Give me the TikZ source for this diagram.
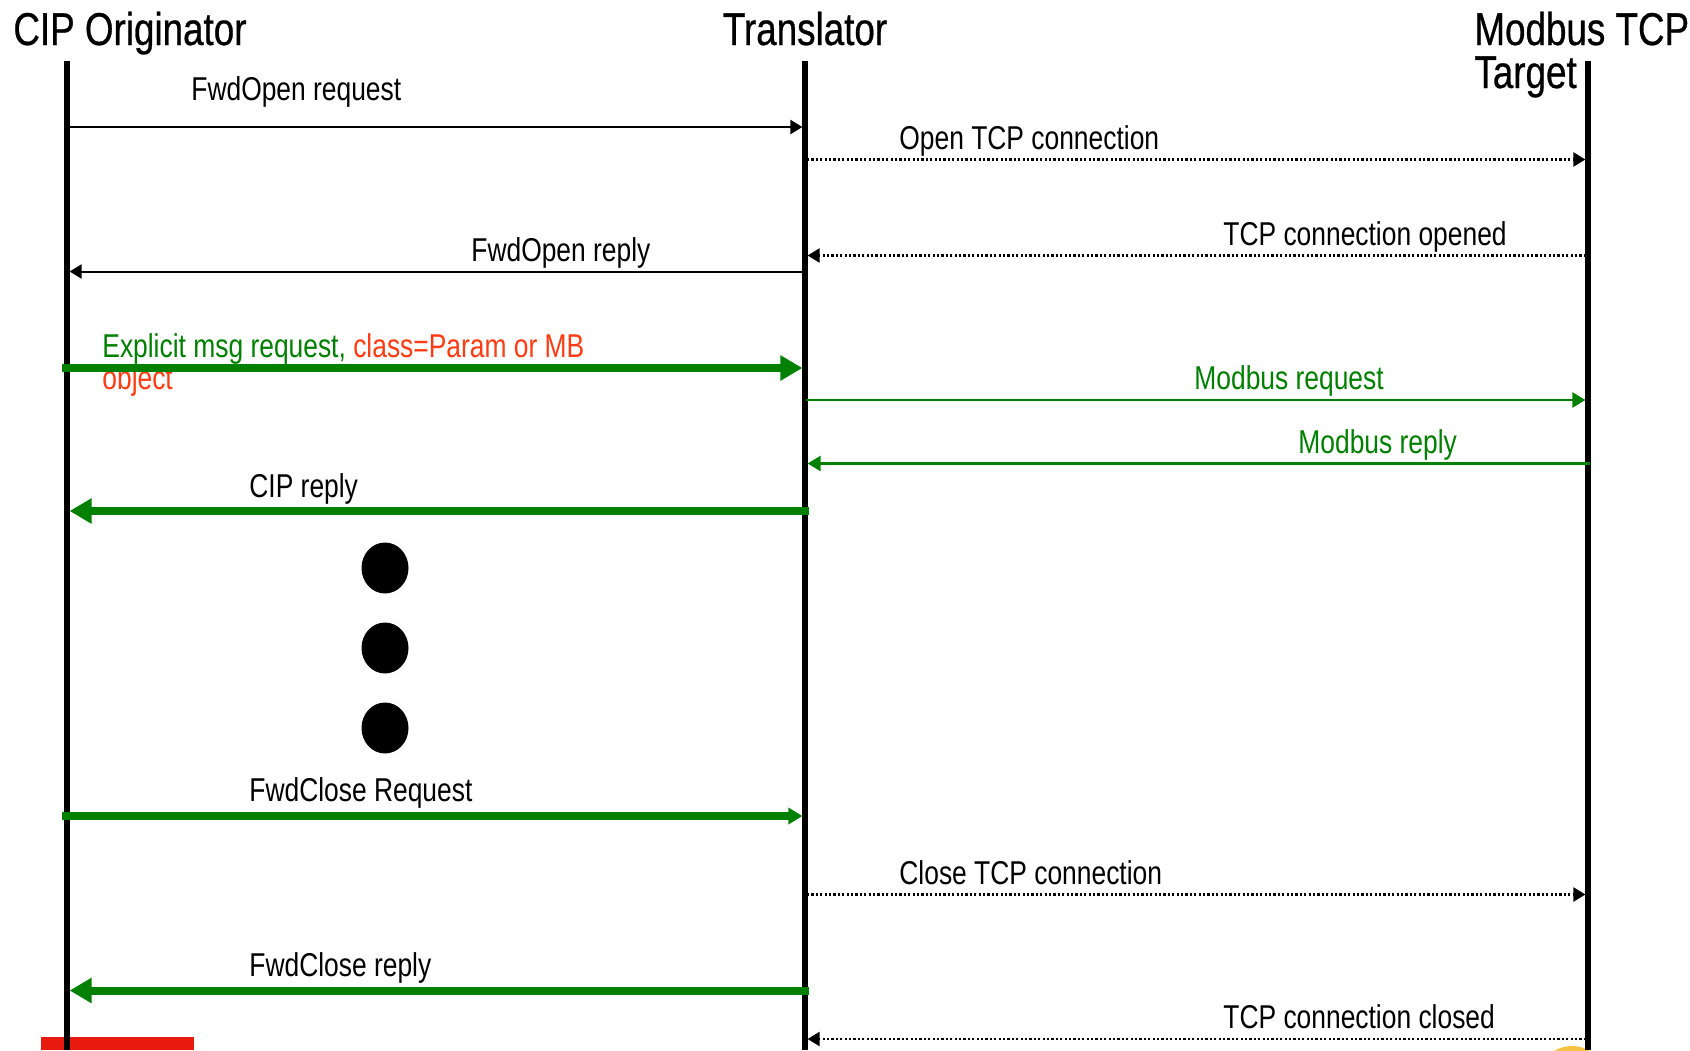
\documentclass[tikz,border=0pt]{standalone}
\usepackage{fontspec}
\setmainfont{Liberation Sans}[FakeStretch=0.8]
\newfontfamily\titlefont{Liberation Sans}[FakeStretch=0.8,FakeBold=0.6]
\usetikzlibrary{arrows.meta}
\definecolor{cipgreen}{RGB}{0,128,0}
\definecolor{cipred}{RGB}{255,60,20}
\definecolor{barred}{RGB}{232,25,15}
\definecolor{sunyellow}{RGB}{245,194,66}
\begin{document}
\begin{tikzpicture}[x=0.5pt,y=-0.5pt,
  title/.style={font=\titlefont\fontsize{23}{26}\selectfont, inner sep=0pt, anchor=base west},
  lbl/.style={font=\fontsize{16.5}{19}\selectfont, inner sep=0pt, anchor=base west},
  life/.style={line width=2.7pt},
  thinmsg/.style={line width=1pt, shorten >=1.3pt, -{Triangle[length=6pt,width=7pt]}},
  dotmsg/.style={line width=1.1pt, dash pattern=on 1.1pt off 1.1pt, shorten >=1.3pt, -{Triangle[length=6pt,width=7pt]}},
  greenthin/.style={cipgreen, line width=1.2pt, shorten >=1.3pt, -{Triangle[length=6.5pt,width=7.5pt]}},
  greenthick/.style={cipgreen, line width=4pt, shorten >=1.3pt, -{Triangle[length=11pt,width=12pt]}},
  greenmid/.style={cipgreen, line width=4pt, shorten >=1.3pt, -{Triangle[length=7pt,width=8pt]}},
  bigdot/.style={fill=black}
]
\clip (0,0) rectangle (1690,1050);
\fill[white] (0,0) rectangle (1690,1050);

% background decorations
\fill[barred] (41,1037) rectangle (194,1050);
\fill[sunyellow] (1572,1080) circle (34);

% titles
\node[title] (orig) at (13,45) {CIP Originator};
\node[title, anchor=base] (trans) at (805,45) {Translator};
\node[title] (mb) at (1474,45) {Modbus TCP};
\node[title] (mbt) at (1474,88) {Target};

% lifelines
\coordinate (oTop) at (67,61);   \coordinate (oBot) at (67,1050);
\coordinate (tTop) at (805,61);  \coordinate (tBot) at (805,1050);
\coordinate (mTop) at (1588,61); \coordinate (mBot) at (1588,1050);
\draw[life] (oTop) -- (oBot);
\draw[life] (tTop) -- (tBot);
\draw[life] (mTop) -- (mBot);

% message end points
\coordinate (o1) at (67,127);   \coordinate (t1) at (805,127);
\coordinate (t2) at (807,159.5);\coordinate (m2) at (1588,159.5);
\coordinate (m3) at (1586,255.5);\coordinate (t3) at (805,255.5);
\coordinate (t4) at (805,271.5);\coordinate (o4) at (67,271.5);
\coordinate (o5) at (62,368);   \coordinate (t5) at (805,368);
\coordinate (t6) at (806,400);  \coordinate (m6) at (1588,400);
\coordinate (m7) at (1590,463.5);\coordinate (t7) at (805,463.5);
\coordinate (t8) at (809,511);  \coordinate (o8) at (67,511);
\coordinate (o9) at (62,816);   \coordinate (t9) at (805,816);
\coordinate (t10) at (807,894.5);\coordinate (m10) at (1588,894.5);
\coordinate (t11) at (809,990.5);\coordinate (o11) at (67,990.5);
\coordinate (m12) at (1586,1039);\coordinate (t12) at (805,1039);

% labels
\node[lbl] (l1) at (191,100) {FwdOpen request};
\node[lbl] (l2) at (899,149) {Open TCP connection};
\node[lbl] (l3) at (1223,245) {TCP connection opened};
\node[lbl] (l4) at (471,261) {FwdOpen reply};
\node[lbl] (l5a) at (102,357) {\textcolor{cipgreen}{Explicit msg request, }\textcolor{cipred}{class=Param or MB}};
\node[lbl, text=cipred] (l5b) at (102,389) {object};
\node[lbl, text=cipgreen] (l6) at (1194,389) {Modbus request};
\node[lbl, text=cipgreen] (l7) at (1298,453) {Modbus reply};
\node[lbl] (l8) at (249,497) {CIP reply};
\node[lbl] (l9) at (249,801) {FwdClose Request};
\node[lbl] (l10) at (899,884) {Close TCP connection};
\node[lbl] (l11) at (249,976) {FwdClose reply};
\node[lbl] (l12) at (1223,1028) {TCP connection closed};

% messages
\draw[thinmsg] (o1) -- (t1);
\draw[dotmsg] (t2) -- (m2);
\draw[dotmsg] (m3) -- (t3);
\draw[thinmsg] (t4) -- (o4);
\draw[greenthick] (o5) -- (t5);
\draw[greenthin] (t6) -- (m6);
\draw[greenthin] (m7) -- (t7);
\draw[greenthick] (t8) -- (o8);
\draw[greenmid] (o9) -- (t9);
\draw[dotmsg] (t10) -- (m10);
\draw[greenthick] (t11) -- (o11);
\draw[dotmsg] (m12) -- (t12);

% continuation dots
\fill[bigdot] (385,568) ellipse [x radius=23.5, y radius=25.5];
\fill[bigdot] (385,648) ellipse [x radius=23.5, y radius=25.5];
\fill[bigdot] (385,728) ellipse [x radius=23.5, y radius=25.5];
\end{tikzpicture}
\end{document}
